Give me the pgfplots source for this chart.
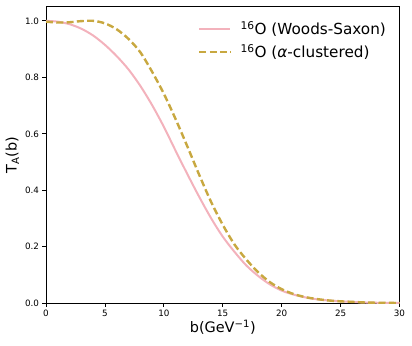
\documentclass[border=0pt]{standalone}
\usepackage{fontspec}
\setmainfont{DejaVu Sans}
\usepackage{pgfplots}
\pgfplotsset{compat=1.18}
\definecolor{wspink}{RGB}{243,178,188}
\definecolor{clgold}{RGB}{200,168,64}

% T_A(b)
\pgfplotstableread{
b   ta
0   1.000
1   0.997
2   0.988
3   0.972
4   0.948
5   0.915
6   0.875
7   0.828
8   0.770
9   0.702
10  0.625
11  0.540
12  0.457
13  0.377
14  0.302
15  0.236
16  0.182
17  0.134
18  0.097
19  0.067
20  0.045
21  0.031
22  0.021
23  0.014
24  0.010
25  0.007
26  0.005
27  0.003
28  0.002
29  0.0015
30  0.001
}\woodssaxon

\pgfplotstableread{
b   ta
0   0.997
1   0.994
2   0.995
3   0.999
4   1.000
5   0.991
6   0.970
7   0.936
8   0.889
9   0.820
10  0.742
11  0.652
12  0.555
13  0.455
14  0.360
15  0.278
16  0.208
17  0.155
18  0.110
19  0.075
20  0.050
21  0.033
22  0.022
23  0.015
24  0.010
25  0.007
26  0.005
27  0.003
28  0.002
29  0.0015
30  0.001
}\clustered

\begin{document}
\begin{tikzpicture}
\begin{axis}[
    scale only axis,
    width=353.5bp, height=296.6bp,
    xmin=0, xmax=30, ymin=0, ymax=1.05,
    xtick={0,5,...,30},
    ytick={0,0.2,0.4,0.6,0.8,1.0},
    yticklabel style={/pgf/number format/.cd, fixed, fixed zerofill, precision=1},
    /pgf/number format/assume math mode=true,
    tick label style={font=\fontsize{8.8}{10}\selectfont},
    tick align=outside, major tick length=3.5bp,
    xtick pos=bottom, ytick pos=left,
    axis line style={line width=0.8bp},
    tick style={line width=0.8bp, black},
    xlabel={b(GeV\textsuperscript{−1})},
    ylabel={T\textsubscript{A}(b)},
    label style={font=\fontsize{14.5}{17}\selectfont},
    xlabel style={at={(axis description cs:0.5,-0.098)}, anchor=base},
    ylabel style={at={(axis description cs:-0.095,0.5)}, anchor=center},
    legend style={at={(axis description cs:0.4215,0.963)}, anchor=north west,
        draw=none, fill=none, font=\fontsize{15.3}{18}\selectfont,
        row sep=4bp, /tikz/every odd column/.append style={column sep=7bp}},
    legend cell align=left,
    legend image code/.code={\draw[#1] (0bp,0bp) -- (31bp,0bp);},
]
\addplot[wspink, line width=2bp, smooth] table[x=b, y=ta] {\woodssaxon};
\addlegendentry{\textsuperscript{16}O (Woods-Saxon)}
\addplot[clgold, line width=2.4bp, dash pattern=on 7bp off 3.3bp, smooth] table[x=b, y=ta] {\clustered};
\addlegendentry{\textsuperscript{16}O (\textit{α}-clustered)}
\end{axis}
\path ([shift={(-46bp,-42.7bp)}]current axis.south west) rectangle ([shift={(12.5bp,6.7bp)}]current axis.north east);
\end{tikzpicture}
\end{document}
